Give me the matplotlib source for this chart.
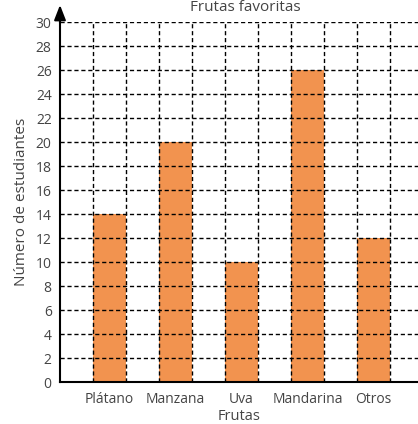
import matplotlib.pyplot as plt
import numpy as np

frutas = ['Plátano', 'Manzana', 'Uva', 'Mandarina', 'Otros']
estudiantes = [14, 20, 10, 26, 12]
yticks = list(range(0, 31, 2))

plt.rcParams['font.family'] = ['Open Sans', 'DejaVu Sans']
txt = '#444444'

fig = plt.figure(figsize=(4.18, 4.24), dpi=100)
ax = fig.add_axes([60 / 418, 42 / 424, 358 / 418, 360 / 424])

pos = np.arange(len(frutas)) * 2 + 1.5
ax.bar(pos, estudiantes, width=1.0, color='#F2934F', zorder=1)

ax.set_xlim(0, 358 / 33)
ax.set_ylim(0, 30)

# dashed grid drawn over the bars
for x in range(1, 11):
    ax.axvline(x, color='black', lw=1, ls=(0, (3, 2)), zorder=3)
for y in yticks[1:]:
    ax.axhline(y, color='black', lw=1, ls=(0, (3, 2)), zorder=3)

ax.spines['top'].set_visible(False)
ax.spines['right'].set_visible(False)
ax.spines['left'].set_linewidth(1.5)
ax.spines['bottom'].set_linewidth(1.5)
ax.spines['left'].set_zorder(4)
ax.spines['bottom'].set_zorder(4)

# arrow at top of y axis
ax.annotate('', xy=(0, 1.055), xytext=(0, 0.99), xycoords='axes fraction',
            arrowprops=dict(arrowstyle='-|>,head_width=0.35,head_length=0.9',
                            color='black', lw=1.5), annotation_clip=False)

ax.set_yticks(yticks)
ax.set_yticklabels([str(v) for v in yticks], fontsize=10, color=txt)
ax.set_xticks(pos)
ax.set_xticklabels(frutas, fontsize=10, color=txt)
ax.tick_params(axis='y', length=0, pad=6)
ax.tick_params(axis='x', length=0, pad=7)

ax.set_xlabel('Frutas', fontsize=10.5, color=txt, labelpad=2)
ax.set_ylabel('Número de estudiantes', fontsize=11, color=txt, labelpad=5)
fig.text(245 / 418, 1.0, 'Frutas favoritas', ha='center', va='top',
         fontsize=11, color=txt)

fig.savefig('out.png', dpi=100)
